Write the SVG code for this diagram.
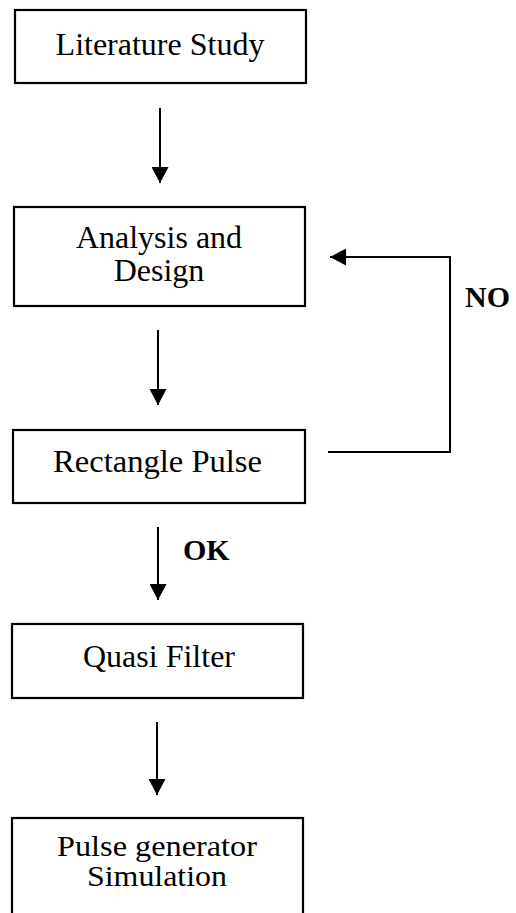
<svg xmlns="http://www.w3.org/2000/svg" width="516" height="913" viewBox="0 0 516 913">
<style>
.box{fill:#fff;stroke:#000;stroke-width:2.2}
.t{font-family:"Liberation Serif","Times New Roman",serif;font-size:32px;fill:#000;text-anchor:middle}
.s{font-size:30px}
.b{font-family:"Liberation Serif","Times New Roman",serif;font-size:30px;font-weight:bold;fill:#000}
.c{fill:none;stroke:#000;stroke-width:2}
</style>
<defs>
<marker id="ah" markerWidth="18" markerHeight="17" refX="17" refY="9" orient="auto" markerUnits="userSpaceOnUse" viewBox="0 0 17 18">
<path d="M0,0 L17,9 L0,18 Z" fill="#000"/>
</marker>
</defs>
<rect width="516" height="913" fill="#fff"/>
<g id="connectors">
<line class="c" x1="160" y1="108" x2="160" y2="183" marker-end="url(#ah)"/>
<line class="c" x1="158" y1="330" x2="158" y2="405" marker-end="url(#ah)"/>
<line class="c" x1="158" y1="527" x2="158" y2="600" marker-end="url(#ah)"/>
<line class="c" x1="157" y1="722" x2="157" y2="795" marker-end="url(#ah)"/>
<polyline class="c" points="328,452 450,452 450,257 330,257" marker-end="url(#ah)"/>
<text class="b" x="465" y="307">NO</text>
<text class="b" x="183" y="560">OK</text>
</g>
<g id="n1">
<rect class="box" x="15" y="10" width="291" height="73"/>
<text class="t" x="160" y="55">Literature Study</text>
</g>
<g id="n2">
<rect class="box" x="14" y="207" width="291" height="99"/>
<text class="t" x="159" y="248">Analysis and</text>
<text class="t" x="159" y="281">Design</text>
</g>
<g id="n3">
<rect class="box" x="13" y="430" width="292" height="73"/>
<text class="t" x="157.5" y="472" textLength="209" lengthAdjust="spacingAndGlyphs">Rectangle Pulse</text>
</g>
<g id="n4">
<rect class="box" x="12" y="624" width="291" height="74"/>
<text class="t" x="159" y="667">Quasi Filter</text>
</g>
<g id="n5">
<rect class="box" x="12" y="818" width="291" height="110"/>
<text class="t s" x="157" y="856" textLength="200" lengthAdjust="spacingAndGlyphs">Pulse generator</text>
<text class="t s" x="157" y="886" textLength="140" lengthAdjust="spacingAndGlyphs">Simulation</text>
</g>
</svg>
